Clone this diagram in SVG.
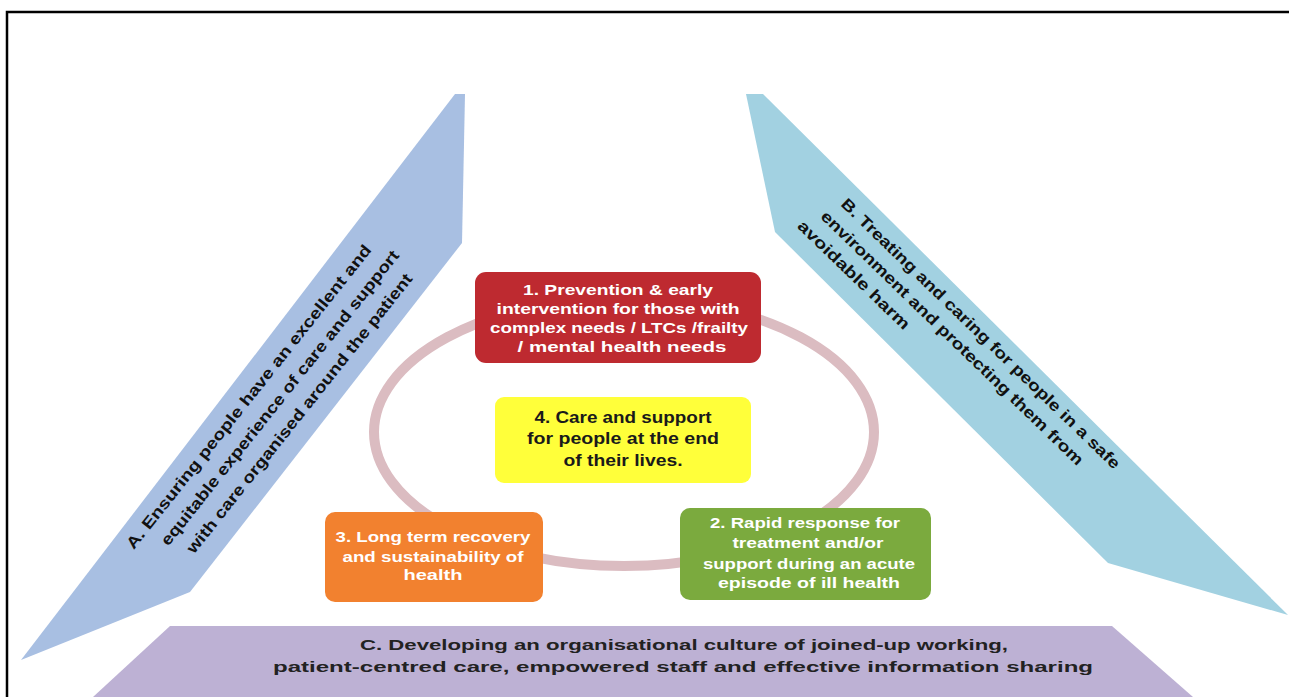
<svg xmlns="http://www.w3.org/2000/svg" width="1289" height="697" viewBox="0 0 1289 697">
<style>
.band-txt{font-family:"Liberation Sans",Arial,sans-serif;font-weight:bold;font-size:16px;fill:#111}
.box-txt{font-family:"Liberation Sans",Arial,sans-serif;font-weight:bold;font-size:15px;fill:#fff;text-anchor:middle}
.dark{fill:#1a1a1a}
.c-txt{font-family:"Liberation Sans",Arial,sans-serif;font-weight:bold;font-size:15px;fill:#222;text-anchor:middle}
</style>
<rect x="0" y="0" width="1289" height="697" fill="#fff"/>
<g id="frame" fill="none" stroke="#000" stroke-width="2.5">
<path d="M7,697 V12 H1289"/>
</g>
<g id="connectors">
<ellipse cx="624" cy="432" rx="250" ry="134" fill="none" stroke="#DBBCC1" stroke-width="10"/>
</g>
<g id="band-a">
<polygon points="455,94 465,94 462,243 190,592 21,660" fill="#A8BFE2"/>
<g transform="translate(133,543) rotate(-51.5)">
<text class="band-txt" x="-5" y="5" textLength="383" lengthAdjust="spacingAndGlyphs">A. Ensuring people have an excellent and</text>
<text class="band-txt" x="19" y="30" textLength="372" lengthAdjust="spacingAndGlyphs">equitable experience of care and support</text>
<text class="band-txt" x="29" y="55" textLength="352" lengthAdjust="spacingAndGlyphs">with care organised around the patient</text>
</g>
</g>
<g id="band-b">
<polygon points="746,94 763,94 1288,615 1108,563 775,232" fill="#A2D1E1"/>
<g transform="translate(847,205) rotate(44)">
<text class="band-txt" x="-5" y="5" textLength="381" lengthAdjust="spacingAndGlyphs">B. Treating and caring for people in a safe</text>
<text class="band-txt" x="-11" y="28" textLength="358" lengthAdjust="spacingAndGlyphs">environment and protecting them from</text>
<text class="band-txt" x="-21" y="51" textLength="149" lengthAdjust="spacingAndGlyphs">avoidable harm</text>
</g>
</g>
<g id="band-c">
<polygon points="170,626 1112,626 1193,697 93,697" fill="#BDB1D4"/>
<text class="c-txt" x="684" y="650" textLength="648" lengthAdjust="spacingAndGlyphs">C. Developing an organisational culture of joined-up working,</text>
<text class="c-txt" x="683" y="672" textLength="820" lengthAdjust="spacingAndGlyphs">patient-centred care, empowered staff and effective information sharing</text>
</g>
<g id="box-1">
<rect x="475" y="272" width="286" height="91" rx="11" fill="#BE2A30"/>
<text class="box-txt" x="618" y="295" textLength="190" lengthAdjust="spacingAndGlyphs">1. Prevention &amp; early</text>
<text class="box-txt" x="618" y="314" textLength="243" lengthAdjust="spacingAndGlyphs">intervention for those with</text>
<text class="box-txt" x="619" y="333" textLength="258" lengthAdjust="spacingAndGlyphs">complex needs / LTCs /frailty</text>
<text class="box-txt" x="622" y="352" textLength="209" lengthAdjust="spacingAndGlyphs">/ mental health needs</text>
</g>
<g id="box-4">
<rect x="495" y="397" width="256" height="86" rx="9" fill="#FFFF3A"/>
<text class="box-txt dark" x="623" y="423" textLength="177" lengthAdjust="spacingAndGlyphs" style="font-size:16px">4. Care and support</text>
<text class="box-txt dark" x="623" y="444" textLength="192" lengthAdjust="spacingAndGlyphs" style="font-size:16px">for people at the end</text>
<text class="box-txt dark" x="623" y="466" textLength="119" lengthAdjust="spacingAndGlyphs" style="font-size:16px">of their lives.</text>
</g>
<g id="box-3">
<rect x="325" y="512" width="218" height="90" rx="10" fill="#F2812F"/>
<text class="box-txt" x="433" y="542" textLength="195" lengthAdjust="spacingAndGlyphs">3. Long term recovery</text>
<text class="box-txt" x="433" y="562" textLength="181" lengthAdjust="spacingAndGlyphs">and sustainability of</text>
<text class="box-txt" x="433" y="580" textLength="59" lengthAdjust="spacingAndGlyphs">health</text>
</g>
<g id="box-2">
<rect x="680" y="508" width="251" height="92" rx="10" fill="#7BAA3E"/>
<text class="box-txt" x="805" y="528" textLength="190" lengthAdjust="spacingAndGlyphs">2. Rapid response for</text>
<text class="box-txt" x="808" y="548" textLength="151" lengthAdjust="spacingAndGlyphs">treatment and/or</text>
<text class="box-txt" x="809" y="569" textLength="212" lengthAdjust="spacingAndGlyphs">support during an acute</text>
<text class="box-txt" x="809" y="588" textLength="182" lengthAdjust="spacingAndGlyphs">episode of ill health</text>
</g>
</svg>
